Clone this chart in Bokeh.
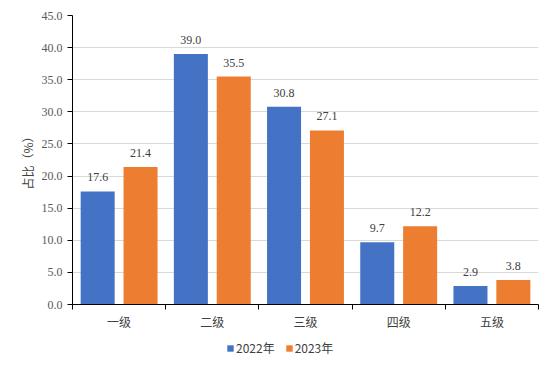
from bokeh.plotting import figure
from bokeh.layouts import column
from bokeh.models import (Range1d, FixedTicker, NumeralTickFormatter, ColumnDataSource,
                          Legend, LegendItem, CustomJSTickFormatter)
from bokeh.core.properties import value
from bokeh.embed import file_html
from bokeh.resources import INLINE

categories = ["一级", "二级", "三级", "四级", "五级"]
series_names = ["2022年", "2023年"]
values_2022 = [17.6, 39.0, 30.8, 9.7, 2.9]
values_2023 = [21.4, 35.5, 27.1, 12.2, 3.8]
y_ticks = [0, 5, 10, 15, 20, 25, 30, 35, 40, 45]
y_label = "占比（%）"

colors = ["#4472C4", "#ED7D31"]
n = len(categories)
centers = [i + 0.5 for i in range(n)]
bar_w = 0.365
offset = 0.23

p = figure(frame_width=466, frame_height=289,
           output_backend="svg", toolbar_location=None,
           x_range=Range1d(0, n), y_range=Range1d(0, max(y_ticks)),
           min_border_left=72, min_border_right=4, min_border_top=15, min_border_bottom=0)
p.outline_line_color = None
p.background_fill_color = "white"
p.border_fill_color = "white"

series = [values_2022, values_2023]
for k, (vals, col) in enumerate(zip(series, colors)):
    xs = [c + (-offset if k == 0 else offset) for c in centers]
    src = ColumnDataSource(dict(x=xs, top=vals, lab=["%.1f" % v for v in vals]))
    p.vbar(x="x", top="top", width=bar_w, source=src, fill_color=col, line_color=None)
    p.text(x="x", y="top", text="lab", source=src, text_align="center", text_baseline="bottom",
           y_offset=-10, text_font=value("Liberation Serif"), text_font_size="12px",
           text_color="#404040")

# y axis
p.yaxis.ticker = FixedTicker(ticks=y_ticks)
p.yaxis.formatter = NumeralTickFormatter(format="0.0")
p.yaxis.major_label_text_font = "Liberation Serif"
p.yaxis.major_label_text_font_size = "12px"
p.yaxis.major_label_text_color = "#595959"
p.yaxis.axis_line_color = "black"
p.yaxis.major_tick_line_color = "black"
p.yaxis.major_tick_out = 5
p.yaxis.major_tick_in = 0
p.yaxis.minor_tick_line_color = None
p.yaxis.axis_label = y_label
p.yaxis.axis_label_text_font = "Noto Sans CJK SC"
p.yaxis.axis_label_text_font_style = "normal"
p.yaxis.axis_label_text_font_size = "12px"
p.yaxis.axis_label_text_color = "#404040"
p.yaxis.axis_label_standoff = 3
p.yaxis.major_label_standoff = 5

# x axis: labels at centers, tick marks at boundaries (minor ticks)
p.xaxis.ticker = FixedTicker(ticks=centers, minor_ticks=list(range(n + 1)))
p.xaxis.formatter = CustomJSTickFormatter(args=dict(cats=categories),
                                          code="return cats[Math.floor(tick)];")
p.xaxis.major_tick_line_color = None
p.xaxis.minor_tick_line_color = "black"
p.xaxis.minor_tick_out = 5
p.xaxis.minor_tick_in = 0
p.xaxis.axis_line_color = "black"
p.xaxis.major_label_text_font = "Noto Sans CJK SC"
p.xaxis.major_label_text_font_size = "12px"
p.xaxis.major_label_text_color = "#404040"
p.xaxis.major_label_standoff = 2

p.xgrid.grid_line_color = None
p.ygrid.ticker = FixedTicker(ticks=y_ticks)
p.ygrid.grid_line_color = "#D9D9D9"

# legend in a separate strip below the chart (its proxy bars have zero height, so draw nothing)
lg = figure(width=542, height=30, output_backend="svg", toolbar_location=None,
            x_range=Range1d(100, 101), y_range=Range1d(100, 101),
            min_border_left=0, min_border_right=0, min_border_top=0, min_border_bottom=0)
lg.axis.visible = False
lg.grid.visible = False
lg.outline_line_color = None
lg.border_fill_color = "white"
lg.background_fill_color = "white"
proxies = [lg.vbar(x=centers, top=vals, bottom=vals, width=bar_w, fill_color=c, line_color=None)
           for vals, c in zip(series, colors)]
legend = Legend(items=[LegendItem(label=s, renderers=[r]) for s, r in zip(series_names, proxies)],
                orientation="horizontal", location=(154, 6),
                border_line_color=None, background_fill_alpha=0,
                label_text_font="Noto Sans CJK SC", label_text_font_size="12px",
                label_text_color="#404040", glyph_width=8, glyph_height=8,
                label_standoff=2, spacing=10, padding=0, margin=0,
                label_height=14)
lg.add_layout(legend, "center")

layout = column(p, lg, spacing=0)
open("out.html", "w").write(file_html(layout, INLINE))
